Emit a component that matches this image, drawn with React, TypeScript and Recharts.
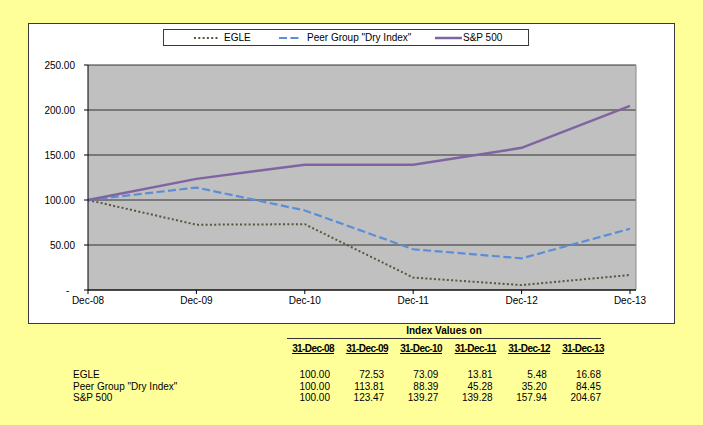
import { LineChart, Line, XAxis, YAxis, CartesianGrid } from "recharts";

// chart values
const periods = ["Dec-08", "Dec-09", "Dec-10", "Dec-11", "Dec-12", "Dec-13"];
const egle = [100, 72.53, 73.09, 13.81, 5.48, 16.68];
const peerDry = [100, 113.81, 88.39, 45.28, 35.2, 68];
const sp500 = [100, 123.47, 139.27, 139.28, 157.94, 204.67];
const yTicks = [0, 50, 100, 150, 200, 250];

// table underneath
const tableDates = ["31-Dec-08", "31-Dec-09", "31-Dec-10", "31-Dec-11", "31-Dec-12", "31-Dec-13"];
const tableEgle = [100, 72.53, 73.09, 13.81, 5.48, 16.68];
const tablePeer = [100, 113.81, 88.39, 45.28, 35.2, 84.45];
const tableSp = [100, 123.47, 139.27, 139.28, 157.94, 204.67];

const data = periods.map((p, i) => ({
  name: p,
  egle: egle[i],
  peer: peerDry[i],
  sp: sp500[i]
}));

const tableRows = [
  { label: "EGLE", values: tableEgle },
  { label: 'Peer Group "Dry Index"', values: tablePeer },
  { label: "S&P 500", values: tableSp }
];

const FONT = '"Liberation Sans", Arial, sans-serif';

const series = [
  { key: "egle", name: "EGLE", color: "#55573F", width: 2, dash: "2 2.3", cap: "butt" as const },
  { key: "peer", name: 'Peer Group "Dry Index"', color: "#5B8ED6", width: 2.2, dash: "8 3.5", cap: "butt" as const },
  { key: "sp", name: "S&P 500", color: "#8064A2", width: 2.5, dash: undefined, cap: "butt" as const }
];

// legend sample / text x offsets inside the legend box
const legendPos = [
  { sx: 30, sw: 26, tx: 61 },
  { sx: 115, sw: 25, tx: 144 },
  { sx: 271, sw: 29, tx: 300 }
];

export default function App() {
  return (
    <div
      style={{
        position: "absolute",
        left: 0,
        top: 0,
        width: 703,
        height: 425,
        background: "#FFFF99",
        fontFamily: FONT,
        overflow: "hidden"
      }}
    >
      <div
        style={{
          position: "absolute",
          left: 28,
          top: 23,
          width: 647,
          height: 301,
          boxSizing: "border-box",
          border: "1px solid #3a3a3a",
          background: "#fff"
        }}
      >
        <LineChart
          width={645}
          height={299}
          data={data}
          margin={{ top: 41, right: 38, left: 4, bottom: 3 }}
        >
          <CartesianGrid
            vertical={false}
            stroke="#333"
            strokeOpacity={1}
            fill="#C0C0C0"
            fillOpacity={1}
          />
          {/* right border of the plot area */}
          <CartesianGrid
            horizontal={false}
            stroke="#8a8a8a"
            verticalCoordinatesGenerator={({ offset }: any) => [offset.left + offset.width]}
          />
          <XAxis
            dataKey="name"
            height={30}
            padding={{ left: 0, right: 6 }}
            stroke="#000"
            tickSize={4}
            tickMargin={3}
            tick={{ fill: "#000", fontSize: 10, fontFamily: FONT }}
            interval={0}
          />
          <YAxis
            width={55}
            domain={[0, 250]}
            ticks={yTicks}
            stroke="#000"
            tickSize={4}
            tickMargin={9}
            tick={{ fill: "#000", fontSize: 10, fontFamily: FONT }}
            tickFormatter={(v: number) => (v === 0 ? "-\u00a0\u00a0" : v.toFixed(2))}
          />
          {series.map((s) => (
            <Line
              key={s.key}
              dataKey={s.key}
              name={s.name}
              stroke={s.color}
              strokeWidth={s.width}
              strokeDasharray={s.dash}
              strokeLinecap={s.cap}
              dot={false}
              type="linear"
              isAnimationActive={false}
            />
          ))}
        </LineChart>

        {/* legend */}
        <div
          style={{
            position: "absolute",
            left: 134,
            top: 5,
            width: 366,
            height: 17,
            boxSizing: "border-box",
            border: "1px solid #3a3a3a",
            background: "#fff"
          }}
        >
          {series.map((s, i) => (
            <div key={s.key}>
              <svg
                width={legendPos[i].sw}
                height={6}
                style={{ position: "absolute", left: legendPos[i].sx - 1, top: 5 }}
              >
                <line
                  x1={1}
                  y1={3}
                  x2={legendPos[i].sw - 1}
                  y2={3}
                  stroke={s.color}
                  strokeWidth={s.width}
                  strokeDasharray={s.dash}
                  strokeLinecap={s.cap}
                />
              </svg>
              <span
                style={{
                  position: "absolute",
                  left: legendPos[i].tx - 1,
                  top: 2,
                  fontSize: 10,
                  lineHeight: "12px",
                  color: "#000",
                  whiteSpace: "nowrap"
                }}
              >
                {s.name}
              </span>
            </div>
          ))}
        </div>
      </div>

      {/* index values table */}
      <div
        style={{
          position: "absolute",
          left: 287,
          width: 314,
          top: 325,
          textAlign: "center",
          fontSize: 10,
          fontWeight: "bold",
          lineHeight: "12px",
          color: "#000"
        }}
      >
        Index Values on
      </div>
      <div
        style={{
          position: "absolute",
          left: 287,
          top: 338,
          width: 314,
          height: 1,
          background: "#333"
        }}
      />
      {tableDates.map((d, i) => (
        <div
          key={d}
          style={{
            position: "absolute",
            left: 334 + i * 54 - 70,
            width: 70,
            top: 343,
            textAlign: "right",
            fontSize: 10,
            fontWeight: "bold",
            lineHeight: "12px",
            letterSpacing: -0.6,
            textDecoration: "underline",
            color: "#000",
            whiteSpace: "nowrap"
          }}
        >
          {d}
        </div>
      ))}
      {tableRows.map((r, ri) => (
        <div key={r.label}>
          <div
            style={{
              position: "absolute",
              left: 73,
              top: 369 + ri * 11.7,
              fontSize: 10,
              lineHeight: "12px",
              color: "#000",
              whiteSpace: "nowrap"
            }}
          >
            {r.label}
          </div>
          {r.values.map((v, ci) => (
            <div
              key={ci}
              style={{
                position: "absolute",
                left: 330 + ci * 54.2 - 60,
                width: 60,
                top: 369 + ri * 11.7,
                textAlign: "right",
                fontSize: 10,
                lineHeight: "12px",
                color: "#000"
              }}
            >
              {v.toFixed(2)}
            </div>
          ))}
        </div>
      ))}
    </div>
  );
}
